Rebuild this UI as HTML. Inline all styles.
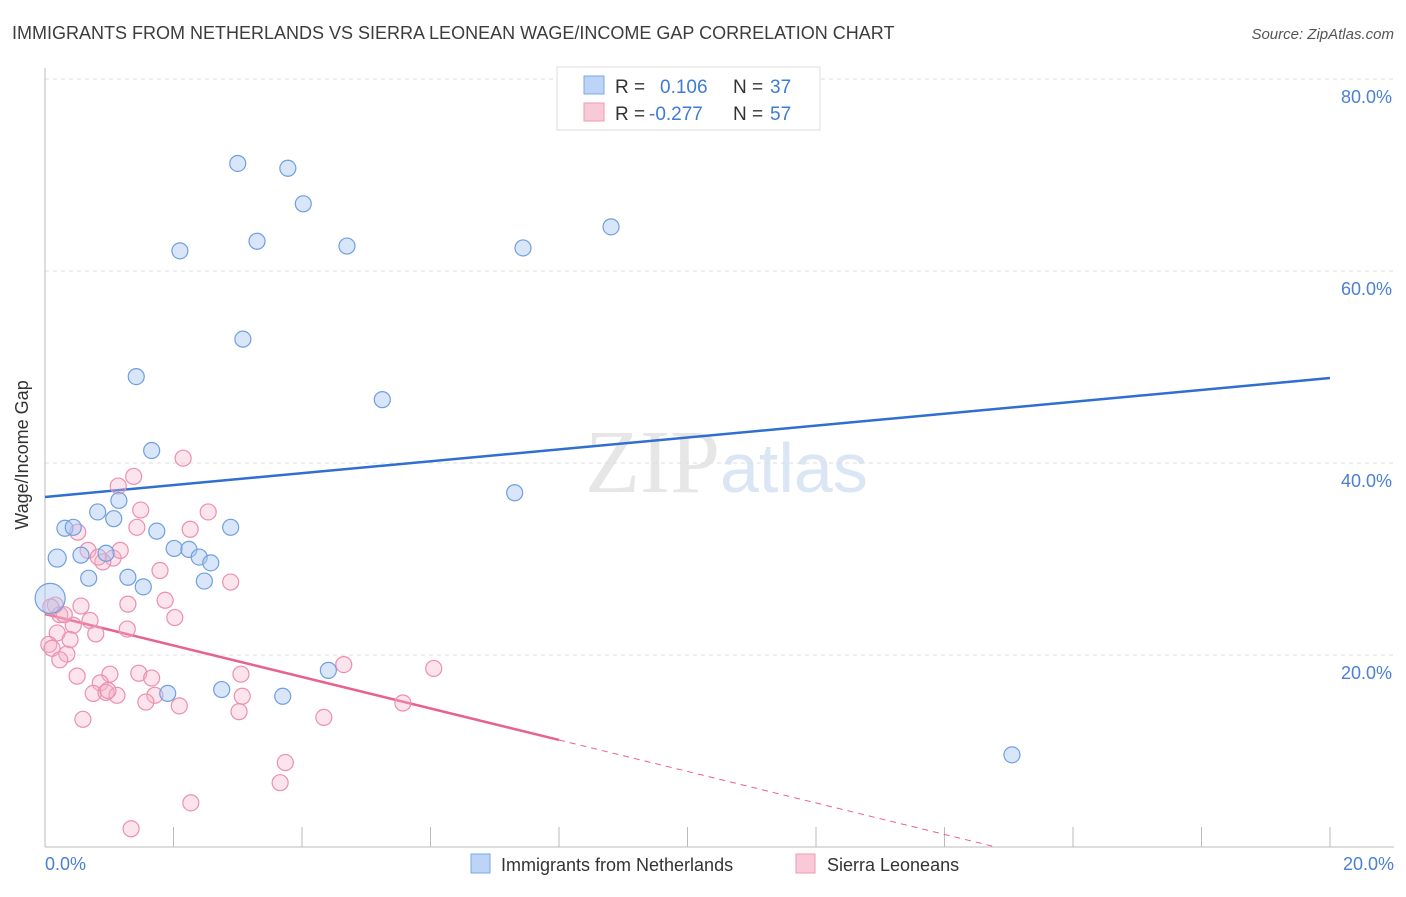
<!DOCTYPE html>
<html><head><meta charset="utf-8"><style>
body{margin:0;background:#fff;font-family:"Liberation Sans",sans-serif}
</style></head><body>
<svg width="1406" height="892" xmlns="http://www.w3.org/2000/svg" style="font-family:'Liberation Sans',sans-serif">
<text x="12" y="39" font-size="18" fill="#3c3c3c">IMMIGRANTS FROM NETHERLANDS VS SIERRA LEONEAN WAGE/INCOME GAP CORRELATION CHART</text>
<text x="1394" y="39" font-size="15" fill="#555" text-anchor="end" font-style="italic">Source: ZipAtlas.com</text>
<text x="720" y="492" font-size="90" fill="#e6e6e6" text-anchor="end" font-family="Liberation Serif">ZIP</text>
<text x="720" y="492" font-size="70" fill="#dbe6f5">atlas</text>
<g id="grid"></g><g id="axes"></g><g id="lines"></g><g id="pts"></g>
<text x="28" y="455" font-size="18" fill="#333" text-anchor="middle" transform="rotate(-90 28 455)">Wage/Income Gap</text>
<text x="45" y="870" font-size="18" fill="#4a7fd4">0.0%</text>
<text x="1394" y="870" font-size="18" fill="#4a7fd4" text-anchor="end">20.0%</text>
<g>
<rect x="557" y="67" width="263" height="63" fill="#fff" stroke="#ddd"/>
<rect x="584" y="76" width="20" height="18" fill="#bcd4f5" stroke="#7aa7e6"/>
<rect x="584" y="103" width="20" height="18" fill="#f9c9d7" stroke="#ee9ab3"/>
<text x="615" y="93" font-size="19" fill="#333">R =</text><text x="660" y="93" font-size="19" fill="#3d7bd6">0.106</text>
<text x="733" y="93" font-size="19" fill="#333">N =</text><text x="770" y="93" font-size="19" fill="#3d7bd6">37</text>
<text x="615" y="120" font-size="19" fill="#333">R =</text><text x="649" y="120" font-size="19" fill="#3d7bd6">-0.277</text>
<text x="733" y="120" font-size="19" fill="#333">N =</text><text x="770" y="120" font-size="19" fill="#3d7bd6">57</text>
</g>
<g>
<rect x="471" y="854" width="19" height="19" fill="#bcd4f5" stroke="#7aa7e6"/>
<text x="501" y="871" font-size="18" fill="#333">Immigrants from Netherlands</text>
<rect x="796" y="854" width="19" height="19" fill="#f9c9d7" stroke="#ee9ab3"/>
<text x="827" y="871" font-size="18" fill="#333">Sierra Leoneans</text>
</g>
</svg>
<script>
const yTicks=[20,40,60,80];
const xTicks=[0,2,4,6,8,10,12,14,16,18,20];
const blueX=[3.0,3.78,4.02,2.1,3.3,4.7,7.44,8.81,3.08,1.42,5.25,1.66,7.31,1.15,0.82,1.07,0.31,0.44,1.74,2.89,0.19,0.56,0.95,2.01,2.24,2.4,2.58,0.68,1.29,1.53,2.48,0.08,2.75,4.41,1.91,3.7,15.05];
const blueY=[71.2,70.7,67.0,62.1,63.1,62.6,62.4,64.6,52.9,49.0,46.6,41.3,36.9,36.1,34.9,34.2,33.2,33.3,32.9,33.3,30.1,30.4,30.6,31.1,31.0,30.2,29.6,28.0,28.1,27.1,27.7,25.9,16.4,18.4,16.0,15.7,9.6];
const blueR=[8,8,8,8,8,8,8,8,8,8,8,8,8,8,8,8,8,8,8,8,9,8,8,8,8,8,8,8,8,8,8,15,8,8,8,8,8];
const pinkX=[2.15,1.38,1.14,1.49,2.54,0.51,1.43,0.67,1.06,0.9,1.79,2.89,1.87,1.29,0.56,0.16,0.23,0.7,0.44,2.02,1.28,0.19,0.79,0.39,0.06,0.11,0.34,0.23,4.65,6.05,1.01,1.46,3.05,1.66,0.5,0.86,0.75,0.95,1.12,1.71,3.07,1.57,2.09,5.57,3.02,4.34,0.59,3.74,3.66,2.27,1.34,0.09,0.3,0.83,1.17,2.26,0.98];
const pinkY=[40.5,38.6,37.6,35.1,34.9,32.8,33.3,30.9,30.1,29.7,28.8,27.6,25.7,25.3,25.1,25.2,24.2,23.6,23.1,23.9,22.7,22.3,22.2,21.6,21.1,20.7,20.1,19.5,19.0,18.6,18.0,18.1,18.0,17.6,17.8,17.1,16.0,16.1,15.8,15.8,15.7,15.1,14.7,15.0,14.1,13.5,13.3,8.8,6.7,4.6,1.9,25.0,24.2,30.2,30.9,33.1,16.3];
const blueFit=[36.46,48.85];
const pinkFit=[24.27,-0.277*0+24.27-13.12*2.5];
const NS="http://www.w3.org/2000/svg";
const X=v=>45+v*64.25, Y=v=>847-v*9.6;
function mk(tag,attrs,parent){const e=document.createElementNS(NS,tag);for(const k in attrs)e.setAttribute(k,attrs[k]);document.getElementById(parent).appendChild(e);return e;}
yTicks.forEach(t=>{
 const g=mk('line',{x1:45,x2:1394,y1:Y(t),y2:Y(t),stroke:'#ddd','stroke-dasharray':'4,4'},'grid');
 
 
 const tx=mk('text',{x:1392,y:Y(t)+24,'font-size':18,fill:'#4a7fd4','text-anchor':'end'},'grid');
 tx.textContent=t.toFixed(1)+'%';
 
 
});
const ax=mk('line',{x1:45,x2:45,y1:68,y2:847,stroke:'#bbb'},'axes');


const bx=mk('line',{x1:45,x2:1394,y1:847,y2:847,stroke:'#bbb'},'axes');


xTicks.forEach(t=>{
 const l=mk('line',{x1:X(t),x2:X(t),y1:827,y2:847,stroke:'#bbb'},'axes');
 
 
});
const bl=mk('line',{x1:X(0),y1:Y(blueFit[0]),x2:X(20),y2:Y(blueFit[1]),stroke:'#2f6fd0','stroke-width':2.5},'lines');


const ps=(24.27-11.15)/8;
const pl=mk('line',{x1:X(0),y1:Y(24.27),x2:X(8),y2:Y(24.27-ps*8),stroke:'#e8628e','stroke-width':2.5},'lines');


const xe=24.27/ps;
const pd=mk('line',{x1:X(8),y1:Y(24.27-ps*8),x2:X(xe),y2:Y(0),stroke:'#e8628e','stroke-width':1,'stroke-dasharray':'6,5'},'lines');


pinkX.forEach((v,i)=>{
 const c=mk('circle',{cx:X(v),cy:Y(pinkY[i]),r:8,fill:'rgba(246,178,200,0.35)',stroke:'#ec8fae','stroke-width':1.2},'pts');
 
 
});
blueX.forEach((v,i)=>{
 const c=mk('circle',{cx:X(v),cy:Y(blueY[i]),r:blueR[i],fill:'rgba(170,200,242,0.45)',stroke:'#6f9fdf','stroke-width':1.2},'pts');
 
 
});
</script>
</body></html>
